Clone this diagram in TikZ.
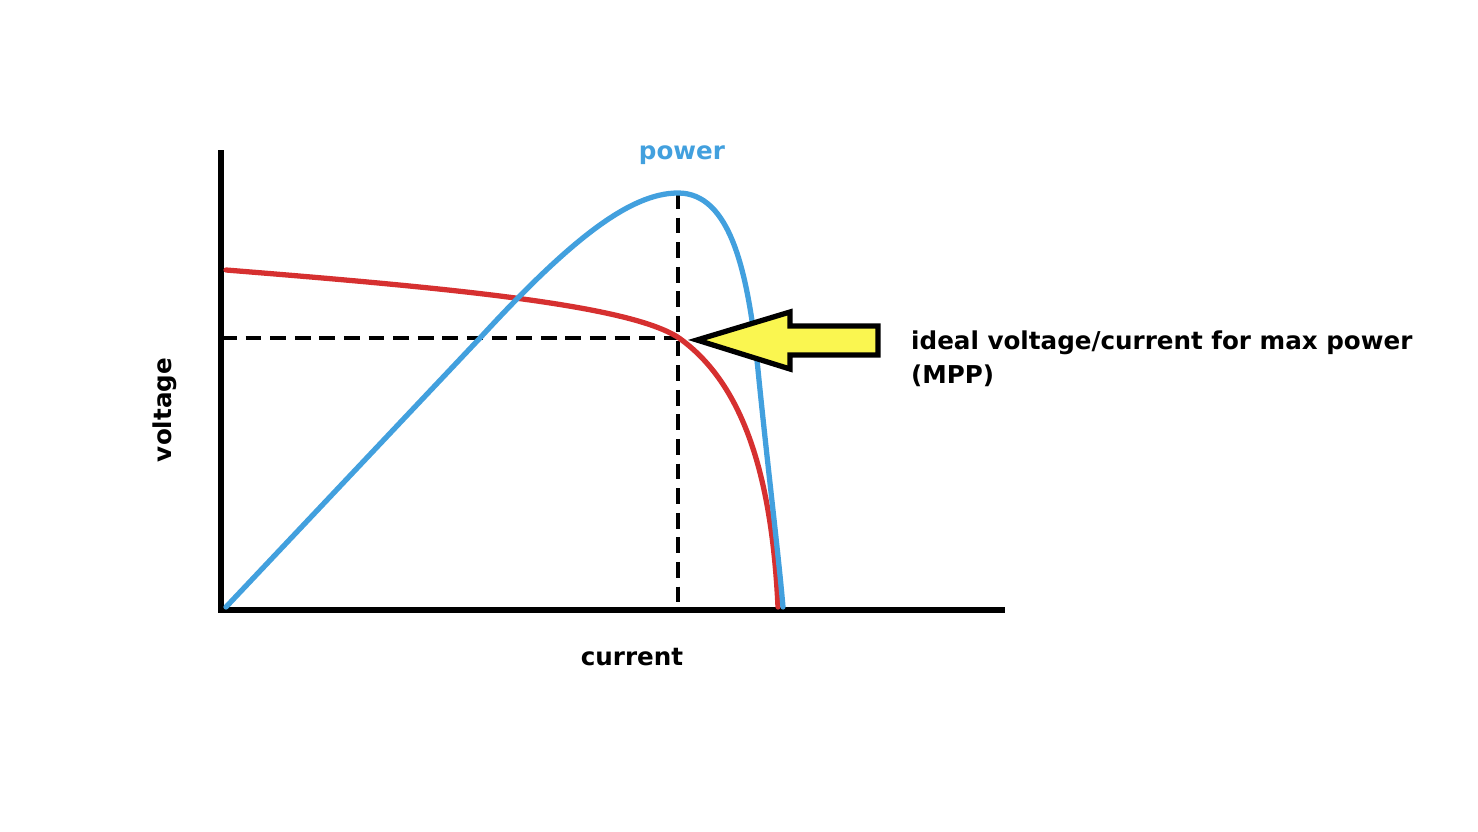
\documentclass[tikz,border=0pt]{standalone}
\usepackage{fontspec}
\setmainfont{DejaVu Sans}
\definecolor{pblue}{RGB}{66,160,222}
\definecolor{cred}{RGB}{214,48,48}
\definecolor{ayel}{RGB}{250,246,80}
\begin{document}
\begin{tikzpicture}[x=0.02cm,y=-0.02cm,
  lbl/.style={font=\fontsize{14}{19}\selectfont\bfseries},
  crv/.style={line width=3pt,line cap=round}]
\useasboundingbox (0,0) rectangle (1478,832);
\coordinate (o) at (221,610);
\coordinate (ytop) at (221,150);
\coordinate (xend) at (1005,610);
\coordinate (mpp) at (679,338);
\coordinate (peak) at (678,193);
\draw[line width=3.5pt] (ytop) -- (o) -- (xend);
\draw[line width=2pt,dash pattern=on 9pt off 5pt] (221,338) -- (mpp);
\draw[line width=2pt,dash pattern=on 9pt off 5pt] (peak) -- (678,610);
\draw[crv,cred] (226,270) .. controls (450,288) and (630,305) .. (mpp) .. controls (745,385) and (772,480) .. (778,607);
\draw[crv,pblue] (226,607) -- (480,338) .. controls (570,240) and (630,193) .. (peak) .. controls (730,193) and (748,270) .. (758,370) .. controls (768,470) and (778,550) .. (783,607);
\draw[line width=3pt,fill=ayel,line join=miter] (697,340) -- (790,312) -- (790,326) -- (878,326) -- (878,355) -- (790,355) -- (790,369) -- cycle;
\node[lbl,pblue] (pw) at (682,155) {power};
\node[lbl,rotate=90] (vl) at (165,410) {voltage};
\node[lbl] (cu) at (632,657) {current};
\node[lbl,anchor=north west,align=left] (ml) at (905,325) {ideal voltage/current for max power\\(MPP)};
\end{tikzpicture}
\end{document}
